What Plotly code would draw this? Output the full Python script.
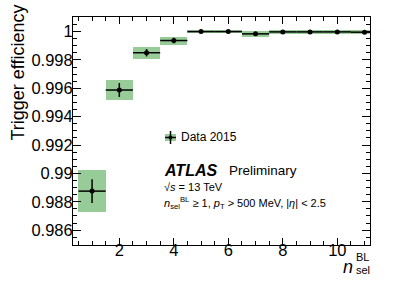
import plotly.graph_objects as go

# Data
bin_centers = [1, 2, 3, 4, 5, 6, 7, 8, 9, 10, 11]
bin_half_width = [0.5] * 11
efficiency = [0.98875, 0.99588, 0.99851, 0.99937, 1.00000, 1.00000, 0.99984, 0.99998, 0.99998, 0.99998, 0.99996]
stat_err = [0.00084, 0.00049, 0.00026, 0.00019, 0.00003, 0.00003, 0.00008, 0.00003, 0.00003, 0.00003, 0.00004]
syst_err = [0.00150, 0.00072, 0.00041, 0.00028, 0.00008, 0.00008, 0.00020, 0.00012, 0.00012, 0.00012, 0.00013]

L, R, T, B = 73, 37, 17, 47
W, H = 407, 292
PW, PH = W - L - R, H - T - B


def px(x):
    return (x - L) / PW


def py(y):
    return (H - B - y) / PH


fig = go.Figure()

fig.add_trace(go.Bar(
    x=bin_centers,
    y=[2 * s for s in syst_err],
    base=[e - s for e, s in zip(efficiency, syst_err)],
    width=[2 * w for w in bin_half_width],
    marker=dict(color="#97cb97", line=dict(width=0)),
    showlegend=False,
    hoverinfo="skip",
))

fig.add_trace(go.Scatter(
    x=bin_centers,
    y=efficiency,
    mode="markers",
    marker=dict(color="black", size=5),
    error_x=dict(type="data", array=bin_half_width, color="black", thickness=1.5, width=0),
    error_y=dict(type="data", array=stat_err, color="black", thickness=1.5, width=0),
    showlegend=False,
))

font_family = "Liberation Sans, Arial, sans-serif"

fig.update_layout(
    width=W, height=H,
    margin=dict(l=L, r=R, t=T, b=B, pad=0),
    plot_bgcolor="white", paper_bgcolor="white",
    font=dict(family=font_family, color="black"),
    bargap=0,
    xaxis=dict(
        range=[0.3, 11.2], dtick=2, tick0=0,
        ticks="inside", ticklen=7, tickwidth=1, tickcolor="black",
        minor=dict(dtick=0.5, ticks="inside", ticklen=4, tickcolor="black", showgrid=False),
        showline=True, linecolor="black", linewidth=1, mirror="allticks",
        showgrid=False, zeroline=False, automargin=False,
        tickfont=dict(size=16.5), ticklabelstandoff=-10,
    ),
    yaxis=dict(
        range=[0.98495, 1.00103], dtick=0.002, tick0=0.986,
        ticks="inside", ticklen=8, tickwidth=1, tickcolor="black",
        minor=dict(dtick=0.0005, ticks="inside", ticklen=4, tickcolor="black", showgrid=False),
        showline=True, linecolor="black", linewidth=1, mirror="allticks",
        showgrid=False, zeroline=False, automargin=False,
        tickfont=dict(size=16.5), ticklabelstandoff=-4,
    ),
)

ann = []
ann.append(dict(text="Trigger efficiency", xref="paper", yref="paper", x=px(17.5), y=py(3),
                xanchor="center", yanchor="top", textangle=-90, showarrow=False,
                font=dict(size=18)))
ann.append(dict(text="<i>n</i>", xref="paper", yref="paper", x=px(348), y=py(267),
                xanchor="center", yanchor="middle", showarrow=False, font=dict(size=18)))
ann.append(dict(text="BL", xref="paper", yref="paper", x=px(354), y=py(257),
                xanchor="left", yanchor="middle", showarrow=False, font=dict(size=11)))
ann.append(dict(text="sel", xref="paper", yref="paper", x=px(354), y=py(270),
                xanchor="left", yanchor="middle", showarrow=False, font=dict(size=11)))
ann.append(dict(text="<b><i>ATLAS</i></b>", xref="paper", yref="paper", x=px(162), y=py(170),
                xanchor="left", yanchor="middle", showarrow=False, font=dict(size=16)))
ann.append(dict(text="Preliminary", xref="paper", yref="paper", x=px(227), y=py(170),
                xanchor="left", yanchor="middle", showarrow=False, font=dict(size=13.5)))
ann.append(dict(text="√<i>s</i> = 13 TeV", xref="paper", yref="paper", x=px(162), y=py(187),
                xanchor="left", yanchor="middle", showarrow=False, font=dict(size=11)))
ann.append(dict(text="<i>n</i><sub>sel</sub><sup>BL</sup> ≥ 1, <i>p</i><sub>T</sub> > 500 MeV, |<i>η</i>| < 2.5",
                xref="paper", yref="paper", x=px(162), y=py(203),
                xanchor="left", yanchor="middle", showarrow=False, font=dict(size=11)))
ann.append(dict(text="Data 2015", xref="paper", yref="paper", x=px(179), y=py(137),
                xanchor="left", yanchor="middle", showarrow=False, font=dict(size=12)))
fig.update_layout(annotations=ann)

shapes = [
    dict(type="rect", xref="paper", yref="paper", x0=px(165), x1=px(176), y0=py(134), y1=py(141),
         fillcolor="#97cb97", line=dict(width=0)),
    dict(type="line", xref="paper", yref="paper", x0=px(165), x1=px(176), y0=py(137.5), y1=py(137.5),
         line=dict(color="black", width=1.5)),
    dict(type="line", xref="paper", yref="paper", x0=px(170.5), x1=px(170.5), y0=py(131), y1=py(144),
         line=dict(color="black", width=1.5)),
    dict(type="circle", xref="paper", yref="paper", x0=px(168.5), x1=px(172.5), y0=py(135.5), y1=py(139.5),
         fillcolor="black", line=dict(width=0)),
]
fig.update_layout(shapes=shapes)

fig.write_html("out.html", config={"displayModeBar": False},
               post_script="document.body.style.margin='0';document.body.style.overflow='hidden';")
